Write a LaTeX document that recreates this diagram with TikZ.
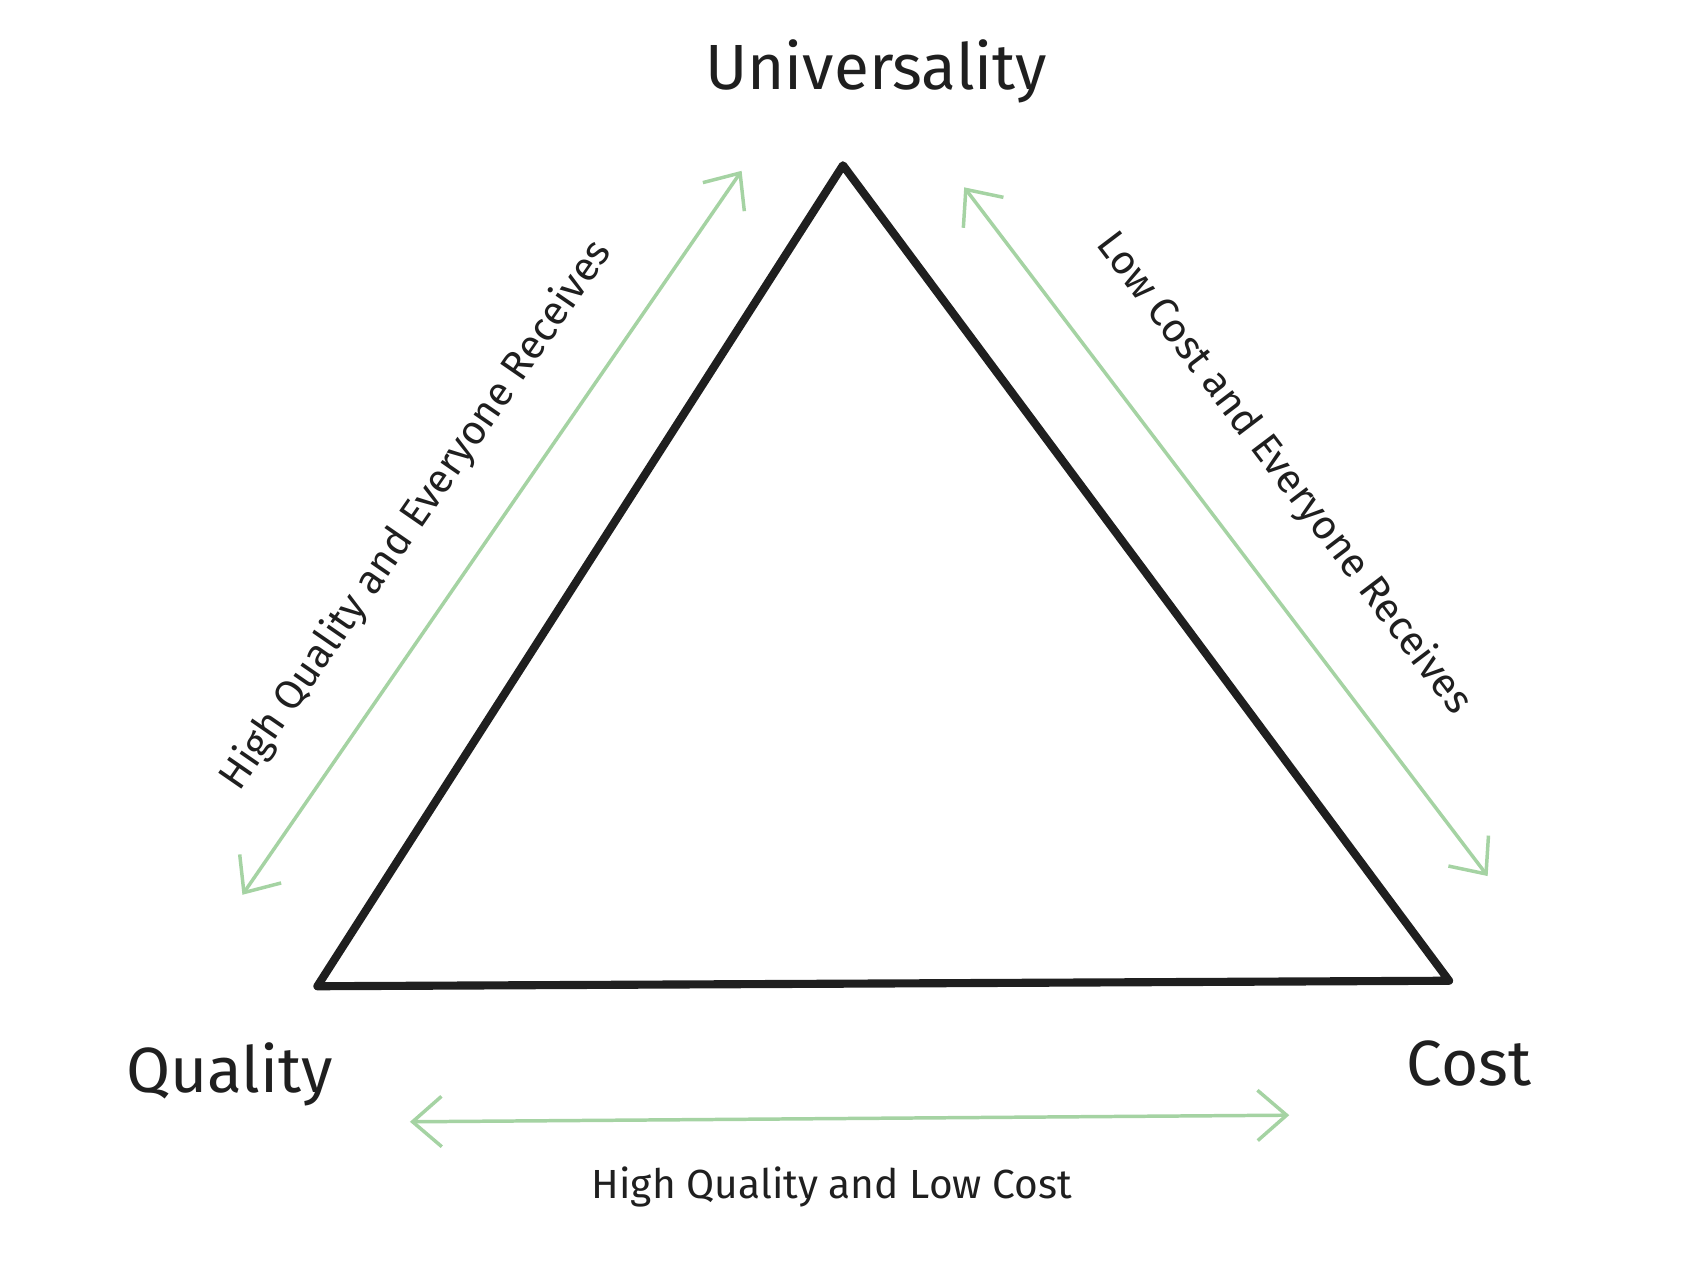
\documentclass[tikz,border=0pt]{standalone}
\usepackage{fontspec}
\setmainfont{Fira Sans}
\usetikzlibrary{arrows.meta}
\definecolor{grn}{HTML}{A5D3A3}
\tikzset{
  tri/.style={line width=4.2pt, line join=round, color=black!88},
  dbl/.style={grn, line width=1.8pt, {Straight Barb[length=15pt,width=26pt,line width=1.8pt]}-{Straight Barb[length=15pt,width=26pt,line width=1.8pt]}},
  big/.style={font=\fontsize{33}{38}\selectfont, text=black!88},
  small/.style={font=\fontsize{21}{25}\selectfont, text=black!88}
}
\begin{document}
\begin{tikzpicture}[x=0.02cm,y=-0.02cm]
\useasboundingbox (0,0) rectangle (1550,1152);
\coordinate (A) at (765,150);
\coordinate (B) at (288,895);
\coordinate (C) at (1315,890);
\draw[tri] (A) -- (B) -- (C) -- cycle;
\node[big] (u) at (795,65) {Universality};
\node[big] (q) at (208,975) {Quality};
\node[big] (c) at (1333,965) {Cost};
\coordinate (l1) at (220,812); \coordinate (l2) at (673,155);
\coordinate (r1) at (875,170); \coordinate (r2) at (1350,795);
\coordinate (b1) at (372,1018); \coordinate (b2) at (1170,1012);
\draw[dbl] (l1) -- (l2);
\draw[dbl] (r1) -- (r2);
\draw[dbl] (b1) -- (b2);
\node[small, rotate=55.4] (lt) at (378,468) {High Quality and Everyone Receives};
\node[small, rotate=-52.8] (rt) at (1165,430) {Low Cost and Everyone Receives};
\node[small] (bt) at (755,1077) {High Quality and Low Cost};
\end{tikzpicture}
\end{document}
